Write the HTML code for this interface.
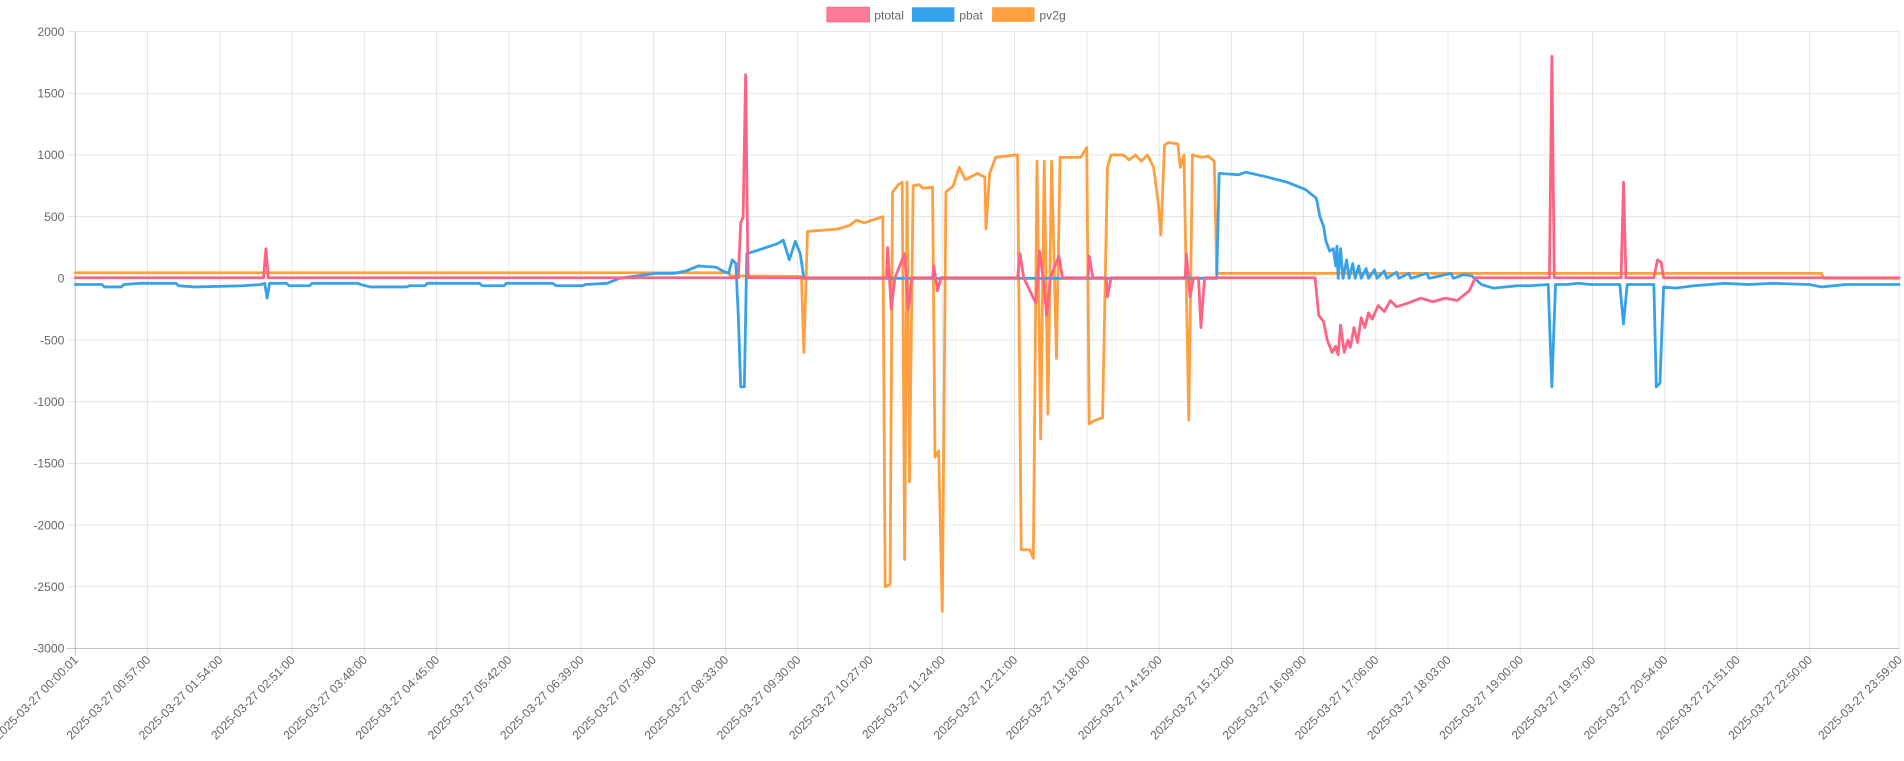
<!DOCTYPE html>
<html><head><meta charset="utf-8"><style>
html,body{margin:0;padding:0;background:#fff;width:1904px;height:761px;overflow:hidden}
svg{display:block}
text{font-family:"Liberation Sans",Helvetica,Arial,sans-serif;fill:#666}
</style></head><body>
<svg id="c" width="1904" height="761" viewBox="0 0 1568 626.7" preserveAspectRatio="none" xmlns="http://www.w3.org/2000/svg">
<g id="grid"></g>
<g id="lines" fill="none" stroke-linejoin="round" stroke-linecap="round"></g>
<g id="labels"></g>
<g>
<rect x="681" y="6" width="35" height="12" fill="#ff6384" stroke="#ff6384" stroke-width="0.8" fill-opacity="0.85"/>
<text x="720" y="16" font-size="10">ptotal</text>
<rect x="751" y="6" width="35" height="12" fill="#36a2eb"/>
<text x="790" y="16" font-size="10">pbat</text>
<rect x="817" y="6" width="35" height="12" fill="#ff9f40"/>
<text x="856" y="16" font-size="10">pv2g</text>
</g>
</svg>
<script>
var NS="http://www.w3.org/2000/svg";
function el(t,a,p){var e=document.createElementNS(NS,t);for(var k in a)e.setAttribute(k,a[k]);p.appendChild(e);return e;}
var L=62,R=1564,T=26,B=534;
function Y(v){return 229.2-v*0.1016;}
var g=document.getElementById('grid'),lab=document.getElementById('labels');
for(var v=2000;v>=-3000;v-=500){var y=Y(v);
 el('line',{x1:55,x2:R,y1:y,y2:y,stroke:v==-3000?'rgba(0,0,0,0.25)':'rgba(0,0,0,0.1)','stroke-width':0.8},g);
 var t=el('text',{x:53,y:y+3.5,'font-size':10,'text-anchor':'end'},lab);t.textContent=v;}
var times=["00:00:01","00:57:00","01:54:00","02:51:00","03:48:00","04:45:00","05:42:00","06:39:00","07:36:00","08:33:00","09:30:00","10:27:00","11:24:00","12:21:00","13:18:00","14:15:00","15:12:00","16:09:00","17:06:00","18:03:00","19:00:00","19:57:00","20:54:00","21:51:00","22:50:00","23:59:00"];
times.forEach(function(s,i){var x=(i<25)?L+i*59.5:R;
 el('line',{x1:x,x2:x,y1:T,y2:B+6,stroke:i==0?'rgba(0,0,0,0.25)':'rgba(0,0,0,0.1)','stroke-width':0.8},g);
 var t=el('text',{x:x+3,y:B+10,'font-size':10,'text-anchor':'end',transform:'rotate(-45 '+(x+3)+' '+(B+10)+')'},lab);t.textContent='2025-03-27 '+s;});
function path(pts,col){var d='';pts.forEach(function(p,i){d+=(i?'L':'M')+p[0]+' '+Y(p[1]).toFixed(1);});
 el('path',{d:d,stroke:col,'stroke-width':2.3},document.getElementById('lines'));}
var o=[[62,45],[600,45],[602,20],[660,15],[662,-600],[665,380],[690,400],[700,430],[705,470],[712,450],[727,500],[729,-2500],[733,-2480],[735,700],[740,760],[743,780],[745,-2280],[747,780],[749,-1650],[752,750],[757,760],[760,730],[768,740],[770,-1450],[773,-1400],[776,-2700],[779,700],[785,750],[790,900],[795,800],[805,850],[811,820],[812,400],[815,850],[820,980],[836,1000],[838,1000],[841,-2200],[848,-2200],[851,-2270],[854,950],[857,-1300],[860,950],[863,-1100],[866,950],[870,-650],[873,980],[890,980],[895,1060],[897,-1180],[902,-1150],[908,-1130],[912,900],[915,1000],[925,1000],[930,960],[935,1000],[940,950],[945,1000],[950,900],[954,600],[956,350],[959,1080],[962,1100],[970,1090],[972,900],[975,1000],[979,-1150],[982,1000],[990,980],[995,990],[1000,950],[1002,40],[1500,40],[1502,0],[1564,0]];
path(o,'#ff9f40');
var b=[[62,-50],[84,-50],[86,-70],[100,-70],[102,-50],[115,-40],[145,-40],[147,-60],[160,-70],[200,-60],[215,-50],[218,-40],[220,-160],[222,-40],[236,-40],[238,-60],[255,-60],[257,-40],[295,-40],[297,-50],[305,-70],[335,-70],[337,-60],[350,-60],[352,-40],[395,-40],[397,-60],[415,-60],[417,-40],[455,-40],[458,-60],[480,-60],[482,-50],[500,-40],[510,0],[525,20],[540,40],[555,40],[565,60],[575,100],[590,90],[595,60],[600,40],[603,150],[606,120],[608,-300],[610,-880],[613,-880],[615,200],[625,230],[640,280],[645,310],[650,150],[655,300],[659,200],[662,0],[1002,0],[1004,850],[1020,840],[1026,860],[1040,830],[1060,780],[1075,720],[1084,650],[1087,500],[1090,420],[1092,300],[1095,220],[1098,240],[1100,100],[1101,260],[1102,0],[1104,240],[1106,0],[1109,150],[1111,0],[1114,120],[1116,0],[1119,100],[1121,0],[1125,80],[1127,0],[1132,70],[1134,0],[1140,60],[1142,0],[1150,50],[1152,0],[1160,40],[1162,0],[1175,40],[1177,0],[1195,40],[1197,0],[1205,30],[1212,20],[1220,-50],[1230,-80],[1250,-60],[1260,-60],[1275,-50],[1278,-880],[1281,-50],[1290,-50],[1300,-40],[1310,-50],[1334,-50],[1337,-370],[1340,-50],[1362,-50],[1364,-880],[1367,-850],[1370,-70],[1380,-80],[1395,-60],[1420,-40],[1440,-50],[1460,-40],[1490,-50],[1500,-70],[1520,-50],[1564,-50]];
path(b,'#36a2eb');
var r=[[62,5],[217,5],[219,240],[221,5],[608,5],[610,450],[612,500],[614,1650],[616,5],[730,5],[731,250],[734,-250],[737,5],[745,200],[748,-250],[751,5],[768,5],[769,100],[772,-100],[775,5],[838,5],[840,200],[843,5],[853,-200],[856,220],[859,5],[862,-300],[865,5],[872,180],[875,5],[896,5],[897,180],[900,5],[911,5],[912,-150],[915,5],[976,5],[977,200],[980,-150],[983,5],[987,5],[989,-400],[992,5],[1083,5],[1086,-300],[1090,-350],[1093,-500],[1097,-600],[1100,-550],[1102,-620],[1104,-380],[1107,-600],[1110,-500],[1112,-560],[1115,-400],[1118,-520],[1121,-320],[1124,-400],[1127,-280],[1130,-330],[1135,-220],[1140,-270],[1145,-180],[1150,-230],[1160,-200],[1170,-160],[1180,-190],[1190,-160],[1200,-180],[1210,-100],[1215,5],[1276,5],[1278,1800],[1280,5],[1335,5],[1337,780],[1339,5],[1362,5],[1365,150],[1368,130],[1370,5],[1564,5]];
path(r,'#ff6384');
</script>
</body></html>
